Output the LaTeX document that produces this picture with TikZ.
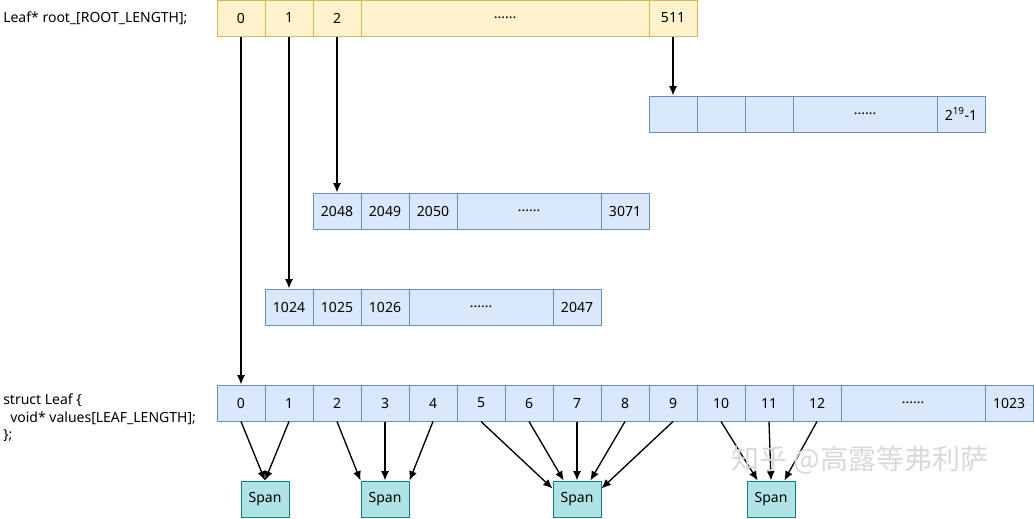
\documentclass[tikz,border=0pt]{standalone}
\usepackage{fontspec}
\setmainfont{Noto Sans}
\newfontfamily\cjk{Noto Sans CJK SC}
\usepackage{tikz}
\usetikzlibrary{arrows.meta}

\definecolor{rootfill}{HTML}{FFF2CC}
\definecolor{rootline}{HTML}{D6B656}
\definecolor{leaffill}{HTML}{DAE8FC}
\definecolor{leafline}{HTML}{6C8EBF}
\definecolor{spanfill}{HTML}{B0E3E6}
\definecolor{spanline}{HTML}{0E8088}

\begin{document}
\begin{tikzpicture}[x=0.75pt, y=-0.75pt, font=\fontsize{10.5pt}{13pt}\selectfont,
    rootcell/.style={rectangle, draw=rootline, fill=rootfill, line width=0.75pt, inner sep=0pt, minimum width=36pt, minimum height=27pt},
    leafcell/.style={rectangle, draw=leafline, fill=leaffill, line width=0.75pt, inner sep=0pt, minimum width=36pt, minimum height=27pt},
    spanbox/.style={rectangle, draw=spanline, fill=spanfill, line width=0.75pt, inner sep=0pt, minimum width=36pt, minimum height=27pt},
    link/.style={-{Latex[length=7pt, width=6pt]}, line width=1pt}]
  \useasboundingbox (0,0) rectangle (1034,518);

  % root array
  \node[anchor=west, inner sep=0pt] (rootlabel) at (3,18) {Leaf* root\_[ROOT\_LENGTH];};
  \node[rootcell] (r0) at (241,18) {0};
  \node[rootcell] (r1) at (289,18) {1};
  \node[rootcell] (r2) at (337,18) {2};
  \node[rootcell, minimum width=216pt] (rdots) at (505,18) {......};
  \node[rootcell] (r511) at (673,18) {511};

  % leaf of 511
  \node[leafcell] (t0) at (673,114) {};
  \node[leafcell] (t1) at (721,114) {};
  \node[leafcell] (t2) at (769,114) {};
  \node[leafcell, minimum width=108pt] (tdots) at (865,114) {......};
  \node[leafcell] (tlast) at (961,114) {2\textsuperscript{19}-1};

  % leaf of 2
  \node[leafcell] (c0) at (337,211) {2048};
  \node[leafcell] (c1) at (385,211) {2049};
  \node[leafcell] (c2) at (433,211) {2050};
  \node[leafcell, minimum width=108pt] (cdots) at (529,211) {......};
  \node[leafcell] (clast) at (625,211) {3071};

  % leaf of 1
  \node[leafcell] (a0) at (289,307) {1024};
  \node[leafcell] (a1) at (337,307) {1025};
  \node[leafcell] (a2) at (385,307) {1026};
  \node[leafcell, minimum width=108pt] (adots) at (481,307) {......};
  \node[leafcell] (alast) at (577,307) {2047};

  % leaf of 0
  \node[anchor=west, align=left, inner sep=0pt] (leaflabel) at (3,418) {struct Leaf \{\\\hspace{0.5em}void* values[LEAF\_LENGTH];\\\};};
  \foreach \i in {0,...,12}
    \node[leafcell] (b\i) at (241+48*\i,403) {\i};
  \node[leafcell, minimum width=108pt] (bdots) at (913,403) {......};
  \node[leafcell] (blast) at (1009,403) {1023};

  % spans
  \node[spanbox] (s1) at (265,499) {Span};
  \node[spanbox] (s2) at (385,499) {Span};
  \node[spanbox] (s3) at (577,499) {Span};
  \node[spanbox] (s4) at (771,499) {Span};

  \draw[link] (r0) -- (b0);
  \draw[link] (r1) -- (a0);
  \draw[link] (r2) -- (c0);
  \draw[link] (r511) -- (t0);

  \draw[link] (b0.south) -- (s1.north);
  \draw[link] (b1.south) -- (s1.north);
  \draw[link] (b2.south) -- (s2.north west);
  \draw[link] (b3.south) -- (s2.north);
  \draw[link] (b4.south) -- (s2.north east);
  \draw[link] (b5.south) -- ([yshift=-6pt]s3.north west);
  \draw[link] (b6.south) -- ([xshift=-10pt]s3.north);
  \draw[link] (b7.south) -- (s3.north);
  \draw[link] (b8.south) -- ([xshift=10pt]s3.north);
  \draw[link] (b9.south) -- ([yshift=-6pt]s3.north east);
  \draw[link] (b10.south) -- ([xshift=-10pt]s4.north);
  \draw[link] (b11.south) -- (s4.north);
  \draw[link] (b12.south) -- ([xshift=10pt]s4.north);

  \node[text=black!15, font=\cjk\fontsize{21pt}{25pt}\selectfont] (mark) at (860,460) {知乎 @高露等弗利萨};
\end{tikzpicture}
\end{document}
